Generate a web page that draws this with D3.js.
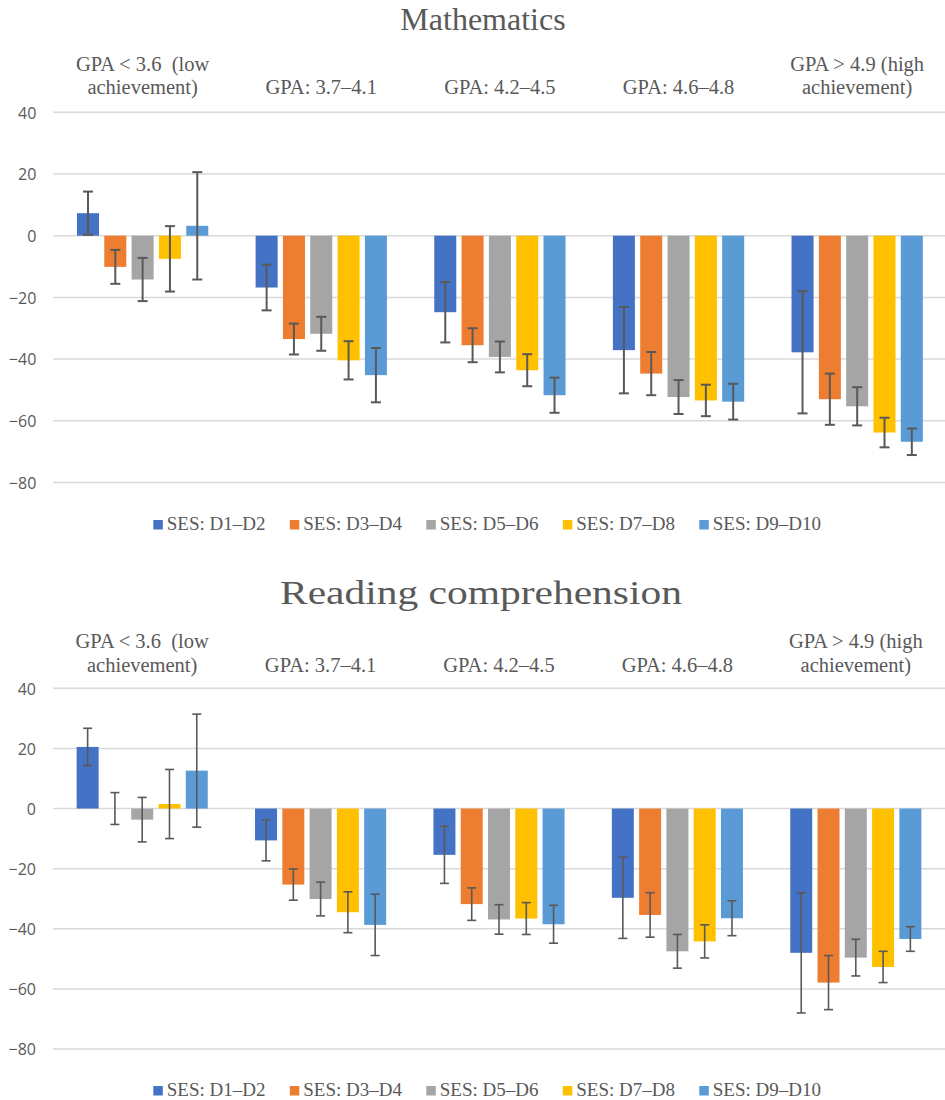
<!DOCTYPE html>
<html>
<head>
<meta charset="utf-8">
<script src="https://cdn.jsdelivr.net/npm/d3@7"></script>
<style>
  html, body { margin: 0; padding: 0; background: #fff; }
  svg { display: block; }
  text { white-space: pre; }
</style>
</head>
<body>
<svg id="chart" width="945" height="1100"></svg>
<script>
// GPA groups (each label is split over lines)
const categories = [
  ["GPA < 3.6  (low", "achievement)"],
  ["GPA: 3.7\u20134.1"],
  ["GPA: 4.2\u20134.5"],
  ["GPA: 4.6\u20134.8"],
  ["GPA > 4.9 (high", "achievement)"]
];

const seriesNames = ["SES: D1\u2013D2", "SES: D3\u2013D4", "SES: D5\u2013D6", "SES: D7\u2013D8", "SES: D9\u2013D10"];
const seriesColors = ["#4472C4", "#ED7D31", "#A5A5A5", "#FFC000", "#5B9BD5"];

const yTicks = [40, 20, 0, -20, -40, -60, -80];

// Mathematics: mean difference per SES group (rows) across GPA groups (columns)
const mathD1D2 = [7.3, -16.8, -24.8, -37.1, -37.8];
const mathD3D4 = [-10.1, -33.5, -35.5, -44.7, -53.0];
const mathD5D6 = [-14.2, -31.8, -39.3, -52.3, -55.3];
const mathD7D8 = [-7.5, -40.4, -43.6, -53.4, -63.8];
const mathD9D10 = [3.2, -45.2, -51.7, -53.8, -66.8];
// Mathematics: half-width of the error bars
const mathErrD1D2 = [7.0, 7.4, 9.8, 14.0, 19.8];
const mathErrD3D4 = [5.5, 5.0, 5.5, 7.0, 8.3];
const mathErrD5D6 = [7.0, 5.5, 5.0, 5.5, 6.2];
const mathErrD7D8 = [10.6, 6.2, 5.2, 5.1, 4.8];
const mathErrD9D10 = [17.4, 8.8, 5.7, 5.8, 4.3];

// Reading comprehension
const readD1D2 = [20.5, -10.6, -15.4, -29.7, -48.0];
const readD3D4 = [0.0, -25.3, -31.8, -35.4, -57.9];
const readD5D6 = [-3.7, -30.1, -36.9, -47.5, -49.6];
const readD7D8 = [1.5, -34.5, -36.6, -44.2, -52.7];
const readD9D10 = [12.6, -38.7, -38.5, -36.5, -43.4];
const readErrD1D2 = [6.2, 6.8, 9.5, 13.5, 20.0];
const readErrD3D4 = [5.3, 5.2, 5.4, 7.4, 9.0];
const readErrD5D6 = [7.4, 5.6, 4.9, 5.6, 6.1];
const readErrD7D8 = [11.5, 6.8, 5.3, 5.5, 5.2];
const readErrD9D10 = [18.8, 10.2, 6.3, 5.8, 4.1];

const svg = d3.select("#chart");
const serif = "'Liberation Serif', 'Times New Roman', serif";
const sans = "'Open Sans', 'Noto Sans', sans-serif";
const textGray = "#595959";

function drawPanel(opt) {
  const g = svg.append("g");
  const values = opt.values, errors = opt.errors;

  const x = d3.scaleBand().domain(d3.range(categories.length)).range([opt.left, opt.right]);
  const xs = d3.scaleBand().domain(d3.range(seriesNames.length))
    .range([x.bandwidth() * 0.1325, x.bandwidth() * 0.8675]).paddingInner(0.194);
  const y = d3.scaleLinear().domain([-80, 40]).range([opt.bottom, opt.top]);

  // title
  const title = g.append("text")
    .attr("x", opt.titleX).attr("y", opt.titleY)
    .attr("text-anchor", "middle")
    .attr("font-family", serif).attr("font-size", opt.titleSize)
    .attr("fill", textGray)
    .text(opt.title);
  if (opt.titleLength) title.attr("textLength", opt.titleLength).attr("lengthAdjust", "spacingAndGlyphs");

  // gridlines
  g.append("g").selectAll("line").data(yTicks).join("line")
    .attr("x1", opt.left).attr("x2", opt.right)
    .attr("y1", d => y(d)).attr("y2", d => y(d))
    .attr("stroke", "#d9d9d9").attr("stroke-width", 1.5);

  // y axis labels
  const axis = d3.axisLeft(y).tickValues(yTicks).tickSize(0).tickPadding(0);
  const ax = g.append("g").attr("transform", `translate(${opt.left - 17},0)`).call(axis);
  ax.select(".domain").remove();
  ax.selectAll("text").attr("font-family", sans).attr("font-size", 16).attr("fill", textGray).attr("dy", "0.36em");

  // category labels above the plot
  const cat = g.append("g").selectAll("text").data(categories).join("text")
    .attr("text-anchor", "middle")
    .attr("font-family", serif).attr("font-size", 20.5).attr("fill", textGray);
  cat.each(function(lines, i) {
    const t = d3.select(this);
    const n = lines.length;
    lines.forEach((line, k) => {
      t.append("tspan")
        .attr("x", x(i) + x.bandwidth() / 2)
        .attr("y", opt.catBaseline - (n - 1 - k) * 23.6)
        .text(line);
    });
  });

  // bars
  values.forEach((series, s) => {
    g.append("g").selectAll("rect").data(series).join("rect")
      .attr("x", (d, i) => x(i) + xs(s))
      .attr("width", xs.bandwidth())
      .attr("y", d => Math.min(y(d), y(0)))
      .attr("height", d => Math.abs(y(d) - y(0)))
      .attr("fill", seriesColors[s]);
  });

  // error bars
  values.forEach((series, s) => {
    const eg = g.append("g").attr("stroke", "#595959").attr("stroke-width", opt.errWidth);
    series.forEach((v, i) => {
      const cx = x(i) + xs(s) + xs.bandwidth() / 2;
      const e = errors[s][i];
      const hi = y(v + e), lo = y(v - e);
      eg.append("line").attr("x1", cx).attr("x2", cx).attr("y1", hi).attr("y2", lo);
      eg.append("line").attr("x1", cx - opt.cap).attr("x2", cx + opt.cap).attr("y1", hi).attr("y2", hi);
      eg.append("line").attr("x1", cx - opt.cap).attr("x2", cx + opt.cap).attr("y1", lo).attr("y2", lo);
    });
  });

  // legend
  const lg = g.append("g").selectAll("g").data(seriesNames).join("g")
    .attr("transform", (d, i) => `translate(${153.3 + i * 136.5},${opt.legendY})`);
  lg.append("rect").attr("x", 0).attr("y", -10).attr("width", 9.5).attr("height", 9.5)
    .attr("fill", (d, i) => seriesColors[i]);
  lg.append("text").attr("x", 13.5).attr("y", 0)
    .attr("font-family", serif).attr("font-size", 19).attr("fill", textGray)
    .text(d => d);
}

drawPanel({
  title: "Mathematics", titleX: 483, titleY: 29.5, titleSize: 32,
  left: 53.3, right: 946.5, top: 112.3, bottom: 482.5,
  catBaseline: 94.3, legendY: 530,
  errWidth: 2, cap: 5,
  values: [mathD1D2, mathD3D4, mathD5D6, mathD7D8, mathD9D10],
  errors: [mathErrD1D2, mathErrD3D4, mathErrD5D6, mathErrD7D8, mathErrD9D10]
});

drawPanel({
  title: "Reading comprehension", titleX: 481, titleY: 604.3, titleSize: 33, titleLength: 402,
  left: 53, right: 945, top: 688.3, bottom: 1049,
  catBaseline: 671.7, legendY: 1096,
  errWidth: 1.6, cap: 4.5,
  values: [readD1D2, readD3D4, readD5D6, readD7D8, readD9D10],
  errors: [readErrD1D2, readErrD3D4, readErrD5D6, readErrD7D8, readErrD9D10]
});
</script>
</body>
</html>
